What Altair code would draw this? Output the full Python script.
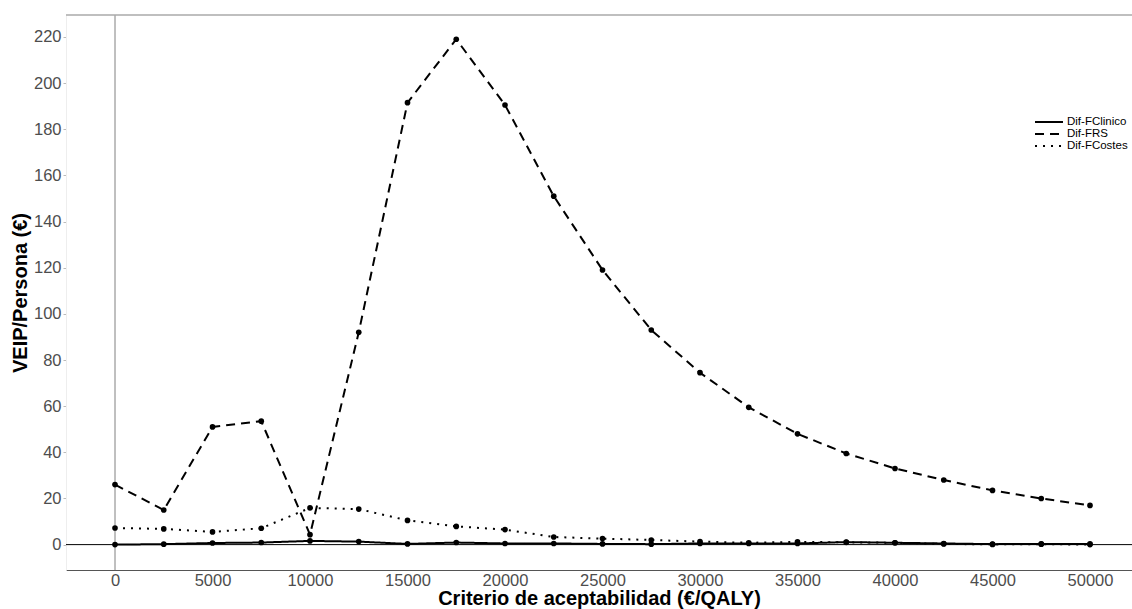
import altair as alt
import pandas as pd

criterio = [0, 2500, 5000, 7500, 10000, 12500, 15000, 17500, 20000, 22500, 25000,
            27500, 30000, 32500, 35000, 37500, 40000, 42500, 45000, 47500, 50000]
dif_fclinico = [0.0, 0.2, 0.7, 0.9, 1.6, 1.3, 0.3, 0.9, 0.5, 0.5, 0.3,
                0.2, 0.5, 0.5, 0.5, 1.1, 0.8, 0.5, 0.2, 0.3, 0.3]
dif_frs = [26, 15, 51, 53.5, 4.3, 92, 191.5, 219, 190.5, 151, 119,
           93, 74.5, 59.5, 48, 39.5, 33, 28, 23.5, 20, 17]
dif_fcostes = [7.2, 6.8, 5.5, 7.1, 15.9, 15.4, 10.5, 7.9, 6.5, 3.3, 2.6,
               2.0, 1.3, 0.8, 1.2, 1.0, 0.8, 0.3, 0.1, 0.2, 0.0]
series = ["Dif-FClinico", "Dif-FRS", "Dif-FCostes"]

rows = []
for name, vals in zip(series, [dif_fclinico, dif_frs, dif_fcostes]):
    for x, v in zip(criterio, vals):
        rows.append({"criterio": x, "valor": v, "serie": name})
df = pd.DataFrame(rows)

W, H = 1066, 555
xscale = alt.Scale(domain=[-2513, 52154], nice=False, zero=False)
yscale = alt.Scale(domain=[-11, 229.5], nice=False, zero=False)

x_enc = alt.X("criterio:Q", scale=xscale,
              axis=alt.Axis(title="Criterio de aceptabilidad (€/QALY)",
                            values=list(range(0, 50001, 5000)), format="d",
                            grid=False, domainColor="#555555", ticks=False,
                            labelPadding=2, titlePadding=0))
y_enc = alt.Y("valor:Q", scale=yscale,
              axis=alt.Axis(title="VEIP/Persona (€)", values=list(range(0, 221, 20)),
                            grid=False, domainColor="#eeeeee", tickColor="#bbbbbb",
                            tickSize=3, labelPadding=2, titlePadding=3))

dash = alt.StrokeDash("serie:N",
                      scale=alt.Scale(domain=series, range=[[1, 0], [9, 6], [2, 6]]),
                      legend=alt.Legend(title=None, orient="none", legendX=977, legendY=101,
                                        symbolType="M-3,0H3", symbolStrokeWidth=2,
                                        symbolSize=87, labelFontSize=11.5,
                                        labelFont="Liberation Sans", rowPadding=0,
                                        labelOffset=12, labelColor="black",
                                        symbolStrokeColor="black"))

lines = alt.Chart(df).mark_line(color="black", strokeWidth=2).encode(
    x=x_enc, y=y_enc, strokeDash=dash, detail="serie:N")
points = alt.Chart(df).mark_circle(color="black", opacity=1, size=32).encode(
    x="criterio:Q", y="valor:Q")

hline = alt.Chart(pd.DataFrame({"valor": [0]})).mark_rule(color="black", strokeWidth=1).encode(
    y="valor:Q")
vline = alt.Chart(pd.DataFrame({"criterio": [0]})).mark_rule(color="#808080", strokeWidth=1).encode(
    x="criterio:Q")
topline = alt.Chart(pd.DataFrame({"v": [0]})).mark_rule(color="#aaaaaa", strokeWidth=1.5).encode(
    y=alt.value(0), x=alt.value(0), x2=alt.value(W))

chart = alt.layer(vline, hline, lines, points, topline).properties(
    width=W, height=H,
    autosize=alt.AutoSizeParams(type="none"),
    padding={"left": 66, "top": 15, "right": 0, "bottom": 39},
).configure_view(stroke=None).configure_axis(
    labelFont="Liberation Sans", labelFontSize=16.5, labelColor="#4d4d4d",
    titleFont="Liberation Sans", titleFontSize=20, titleFontWeight="bold",
    titleColor="black",
)

chart.save("out.html", embed_options={"renderer": "svg", "actions": False})
